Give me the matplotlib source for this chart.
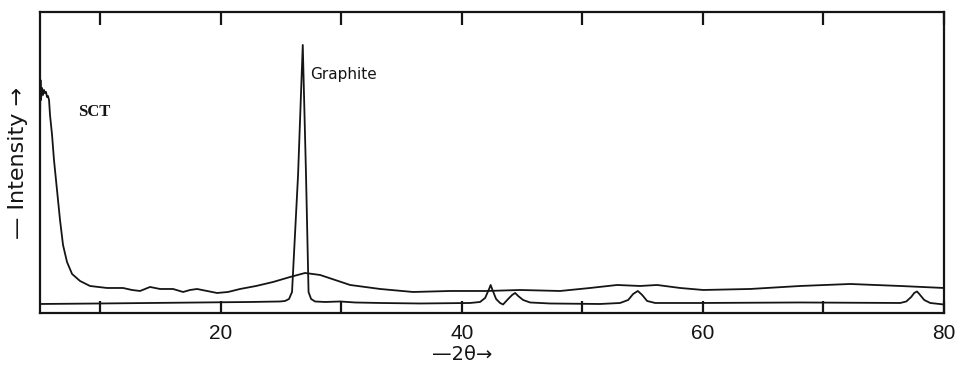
import matplotlib
matplotlib.use("Agg")
import matplotlib.pyplot as plt

# --- data (2theta in degrees, intensity in arbitrary units) ---
sct_theta = [5.00, 5.04, 5.08, 5.17, 5.25, 5.33, 5.41, 5.50, 5.58, 5.66, 5.75, 5.83,
             6.00, 6.16, 6.41, 6.66, 6.91, 7.24, 7.66, 8.32, 9.15, 10.56, 11.89,
             12.63, 13.30, 14.13, 14.96, 16.04, 16.87, 17.45, 18.03, 18.86, 19.69,
             20.60, 21.60, 22.93, 24.34, 25.75, 26.99, 28.24, 30.73, 33.22, 35.95,
             39.02, 42.10, 44.83, 48.15, 50.64, 52.88, 54.79, 56.20, 58.11, 60.02,
             63.92, 68.07, 72.22, 76.37, 80.00]
sct_int = [188, 233, 213, 225, 218, 223, 220, 221, 216, 217, 213, 198,
           178, 153, 123, 93, 68, 51, 39, 32, 27, 25, 25,
           23, 22, 26, 24, 24, 21, 23, 24, 22, 20,
           21, 24, 27, 31, 36, 40, 38, 28, 24, 21,
           22, 22, 23, 22, 25, 28, 27, 28, 25, 23,
           24, 27, 29, 27, 25]

graphite_theta = [5.00, 9.98, 14.13, 18.28, 22.43, 24.92, 25.33, 25.66, 25.91, 26.41,
                  26.80, 27.07, 27.28, 27.49, 27.82, 28.65, 29.90, 31.14, 33.22,
                  36.54, 40.68, 41.51, 41.93, 42.26, 42.39, 42.51, 42.84, 43.17,
                  43.42, 43.84, 44.17, 44.42, 44.67, 45.08, 45.66, 47.32, 51.47,
                  53.13, 53.80, 54.21, 54.60, 54.96, 55.37, 56.04, 59.77, 68.07,
                  76.37, 76.87, 77.28, 77.53, 77.76, 77.95, 78.36, 78.86, 80.00]
graphite_int = [9, 9.5, 10, 10.5, 11, 11.5, 12, 14, 21, 138,
                268, 138, 21, 14, 11.5, 11, 11.5, 10.5, 10,
                9.5, 10, 11, 15, 24, 28, 24, 14, 10,
                8.5, 14, 18, 20, 17, 13, 10.5, 9.5, 9,
                10, 13, 19, 22, 18, 12, 10, 10, 10.5,
                10, 11.5, 16, 20, 21.5, 19, 13, 10, 8.5]

xticks_major = [20, 40, 60, 80]
xticks_minor = [10, 30, 50, 70]

ink = "#151515"

fig = plt.figure(figsize=(9.57, 3.68), dpi=100)
ax = fig.add_axes([0.0418, 0.1495, 0.9446, 0.818])

ax.plot(sct_theta, sct_int, color=ink, lw=1.3)
ax.plot(graphite_theta, graphite_int, color=ink, lw=1.3)

ax.set_xlim(5, 80)
ax.set_ylim(0, 301)

ax.set_xticks(xticks_major)
ax.set_xticklabels([str(t) for t in xticks_major], fontsize=15,
                   family="Liberation Sans", color=ink)
ax.set_xticks(xticks_minor, minor=True)
ax.tick_params(axis="x", which="both", direction="in", length=9, width=1.6,
               top=True, bottom=True, color=ink, pad=8)
ax.set_yticks([])

for s in ax.spines.values():
    s.set_linewidth(1.6)
    s.set_color(ink)

ax.set_xlabel("\u20142\u03b8\u2192", fontsize=14, color=ink,
              family="DejaVu Sans")
ax.xaxis.set_label_coords((40 - 5) / 75, -0.108)
ax.set_ylabel("\u2014 Intensity \u2192", fontsize=16, color=ink,
              family="DejaVu Sans")
ax.yaxis.set_label_coords(-0.013, 0.5)

ax.text(8.15, 201, "SCT", fontsize=12, fontweight="bold",
        family="Liberation Serif", va="center", ha="left", color=ink)
ax.text(27.4, 238, "Graphite", fontsize=11, family="DejaVu Sans",
        va="center", ha="left", color=ink)

fig.savefig("out.png", dpi=100)
